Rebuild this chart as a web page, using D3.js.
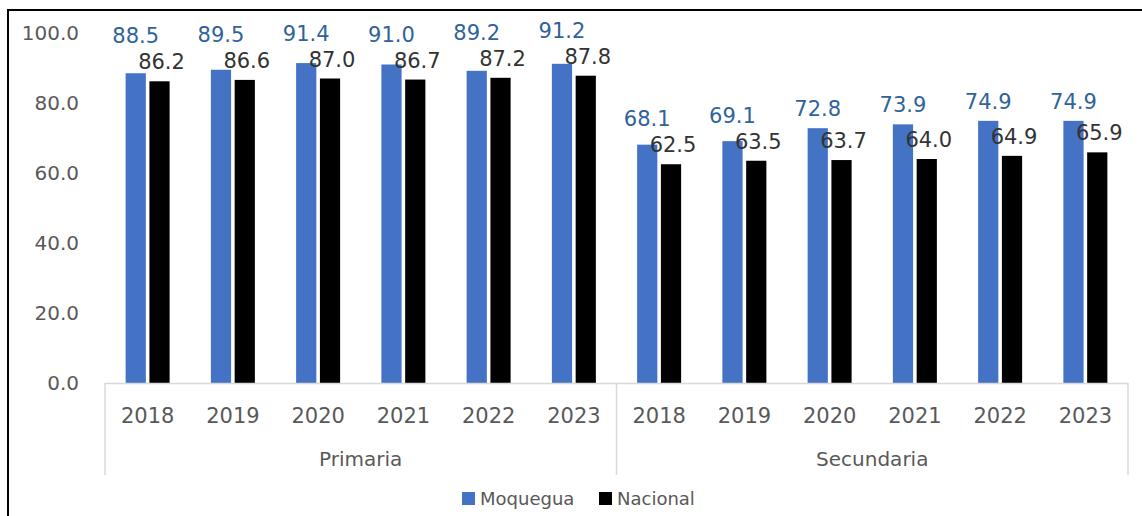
<!DOCTYPE html>
<html><head><meta charset="utf-8">
<script src="https://cdn.jsdelivr.net/npm/d3@7"></script>
<style>html,body{margin:0;padding:0;background:#fff;}</style>
</head><body>
<svg id="chart" width="1142" height="516"></svg>
<script>
const groups = ["Primaria", "Secundaria"];
const years = ["2018", "2019", "2020", "2021", "2022", "2023"];
const seriesNames = ["Moquegua", "Nacional"];
const moquegua = [88.5, 89.5, 91.4, 91.0, 89.2, 91.2, 68.1, 69.1, 72.8, 73.9, 74.9, 74.9];
const nacional = [86.2, 86.6, 87.0, 86.7, 87.2, 87.8, 62.5, 63.5, 63.7, 64.0, 64.9, 65.9];
const yTicks = [0, 20, 40, 60, 80, 100];

const colors = {Moquegua: "#4472C4", Nacional: "#000000"};
const labelColors = {Moquegua: "#2f6399", Nacional: "#333333"};
const font = "'DejaVu Sans', sans-serif";

const svg = d3.select("#chart");
const plotLeft = 105, plotRight = 1128, plotTop = 33, plotBottom = 383;

// frame
svg.append("rect").attr("x", 8).attr("y", 10).attr("width", 1300).attr("height", 700)
  .attr("fill", "none").attr("stroke", "#000").attr("stroke-width", 2);

const cats = [];
groups.forEach((g, gi) => years.forEach((yr, yi) => cats.push({group: g, year: yr, i: gi * years.length + yi})));

const x0 = d3.scaleBand().domain(cats.map(c => c.i)).range([plotLeft, plotRight]).paddingInner(0.484).paddingOuter(0.242);
const x1 = d3.scaleBand().domain(seriesNames).range([0, x0.bandwidth()]).paddingInner(0.15);
const y = d3.scaleLinear().domain([0, 100]).range([plotBottom, plotTop]);

// y axis labels
const yAxis = d3.axisLeft(y).tickValues(yTicks).tickFormat(d3.format(".1f")).tickSize(0).tickPadding(0);
const yg = svg.append("g").attr("transform", "translate(79,0)").call(yAxis);
yg.select(".domain").remove();
yg.selectAll("text").attr("font-family", font).attr("font-size", 20).attr("fill", "#595959");

// bars
const data = cats.map(c => ({...c, Moquegua: moquegua[c.i], Nacional: nacional[c.i]}));
const catG = svg.append("g").selectAll("g").data(data).join("g")
  .attr("transform", d => `translate(${x0(d.i)},0)`);
catG.selectAll("rect").data(d => seriesNames.map(s => ({s, v: d[s]}))).join("rect")
  .attr("x", d => x1(d.s)).attr("width", x1.bandwidth())
  .attr("y", d => y(d.v)).attr("height", d => y(0) - y(d.v))
  .attr("fill", d => colors[d.s]);

// data labels
const fmt = d3.format(".1f");
data.forEach(d => {
  const cx = x0(d.i);
  const nacBase = y(d.Nacional) - 12;
  const moqBase = Math.min(y(d.Moquegua) - 12, nacBase - 26);
  svg.append("text").attr("x", cx + x1("Nacional") + x1.bandwidth() / 2 + 2).attr("y", nacBase)
    .attr("text-anchor", "middle").attr("font-family", font).attr("font-size", 21)
    .attr("fill", labelColors.Nacional).text(fmt(d.Nacional));
  svg.append("text").attr("x", cx + x1("Moquegua") + x1.bandwidth() / 2).attr("y", moqBase)
    .attr("text-anchor", "middle").attr("font-family", font).attr("font-size", 21)
    .attr("fill", labelColors.Moquegua).text(fmt(d.Moquegua));
});

// x axis
const axisColor = "#d9d9d9";
svg.append("line").attr("x1", plotLeft).attr("x2", plotRight).attr("y1", plotBottom + 0.5).attr("y2", plotBottom + 0.5)
  .attr("stroke", axisColor).attr("stroke-width", 1.5);
const sepX = [plotLeft, (x0(5) + x0.bandwidth() + x0(6)) / 2, plotRight];
sepX.forEach(sx => svg.append("line").attr("x1", sx).attr("x2", sx).attr("y1", plotBottom).attr("y2", 475)
  .attr("stroke", axisColor).attr("stroke-width", 1.5));

const xAxis = d3.axisBottom(x0).tickFormat(i => cats[i].year).tickSize(0).tickPadding(0);
const xg = svg.append("g").attr("transform", `translate(0,${plotBottom})`).call(xAxis);
xg.select(".domain").remove();
xg.selectAll("text").attr("font-family", font).attr("font-size", 21).attr("fill", "#595959")
  .attr("dy", null).attr("y", 40);

groups.forEach((g, gi) => {
  svg.append("text").attr("x", (sepX[gi] + sepX[gi + 1]) / 2).attr("y", 466)
    .attr("text-anchor", "middle").attr("font-family", font).attr("font-size", 20)
    .attr("fill", "#595959").text(g);
});

// legend
const legendX = [462, 599];
seriesNames.forEach((s, i) => {
  const lg = svg.append("g").attr("transform", `translate(${legendX[i]},492)`);
  lg.append("rect").attr("x", 0).attr("y", 0).attr("width", 13).attr("height", 13).attr("fill", colors[s]);
  lg.append("text").attr("x", 18).attr("y", 13).attr("font-family", font).attr("font-size", 18)
    .attr("fill", "#595959").text(s);
});
</script>
</body></html>
